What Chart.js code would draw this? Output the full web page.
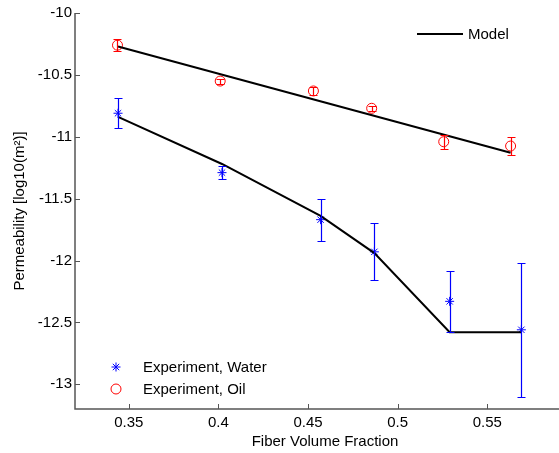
<!DOCTYPE html>
<html>
<head>
<meta charset="utf-8">
<script src="https://cdn.jsdelivr.net/npm/chart.js@4/dist/chart.umd.min.js"></script>
<style>
  html, body { margin: 0; padding: 0; background: #fff; }
  #wrap { width: 559px; height: 453px; }
</style>
</head>
<body>
<div id="wrap"><canvas id="perm-chart" width="559" height="453"></canvas></div>
<script>
// Data
const waterX = [0.344, 0.402, 0.457, 0.487, 0.529, 0.569];
const waterY = [-10.81, -11.29, -11.67, -11.93, -12.33, -12.56];
const waterErr = [0.12, 0.05, 0.17, 0.23, 0.245, 0.54];

const oilX = [0.3437, 0.401, 0.453, 0.4855, 0.5257, 0.563];
const oilY = [-10.26, -10.55, -10.63, -10.77, -11.04, -11.075];
const oilErr = [0.05, 0.02, 0.03, 0.02, 0.055, 0.075];

const modelWaterX = [0.344, 0.402, 0.457, 0.487, 0.529, 0.569];
const modelWaterY = [-10.84, -11.22, -11.64, -11.94, -12.58, -12.58];
const modelOilX = [0.344, 0.563];
const modelOilY = [-10.27, -11.13];

const xTickVals = [0.35, 0.4, 0.45, 0.5, 0.55];
const yTickVals = [-13, -12.5, -12, -11.5, -11, -10.5, -10];

const FONT = "'Liberation Sans', Arial, sans-serif";
const AXIS_COLOR = '#555';

const toPoints = (xs, ys) => xs.map((x, i) => ({ x: x, y: ys[i] }));

// error bars, axes, inward ticks, titles and the two legends
const extrasPlugin = {
    id: 'extras',
    afterDatasetsDraw(chart) {
        const ctx = chart.ctx;
        const xs = chart.scales.x, ys = chart.scales.y;
        const drawBars = (xv, yv, ev, color) => {
            ctx.save();
            ctx.strokeStyle = color;
            ctx.lineWidth = 1.2;
            xv.forEach((x, i) => {
                const px = Math.round(xs.getPixelForValue(x)) + 0.5;
                const top = Math.round(ys.getPixelForValue(yv[i] + ev[i])) + 0.5;
                const bot = Math.round(ys.getPixelForValue(yv[i] - ev[i])) + 0.5;
                ctx.beginPath();
                ctx.moveTo(px, top); ctx.lineTo(px, bot);
                ctx.moveTo(px - 4, top); ctx.lineTo(px + 4, top);
                ctx.moveTo(px - 4, bot); ctx.lineTo(px + 4, bot);
                ctx.stroke();
            });
            ctx.restore();
        };
        drawBars(waterX, waterY, waterErr, '#0000ff');
        drawBars(oilX, oilY, oilErr, '#ff0000');
    },
    afterDraw(chart) {
        const ctx = chart.ctx;
        const a = chart.chartArea;
        const xs = chart.scales.x, ys = chart.scales.y;
        ctx.save();
        // axes lines
        ctx.strokeStyle = AXIS_COLOR;
        ctx.lineWidth = 1.5;
        ctx.beginPath();
        ctx.moveTo(a.left, a.top);
        ctx.lineTo(a.left, a.bottom);
        ctx.lineTo(a.right, a.bottom);
        ctx.stroke();
        // inward ticks
        ctx.lineWidth = 1;
        ctx.beginPath();
        yTickVals.forEach(v => {
            const py = Math.round(ys.getPixelForValue(v)) + 0.5;
            ctx.moveTo(a.left, py); ctx.lineTo(a.left + 5, py);
        });
        xTickVals.forEach(v => {
            const px = Math.round(xs.getPixelForValue(v)) + 0.5;
            ctx.moveTo(px, a.bottom); ctx.lineTo(px, a.bottom - 5);
        });
        ctx.stroke();

        // axis titles
        ctx.fillStyle = '#000';
        ctx.font = '15px ' + FONT;
        ctx.textAlign = 'center';
        ctx.textBaseline = 'middle';
        ctx.fillText('Fiber Volume Fraction', 325, 442);
        ctx.save();
        ctx.translate(20, 211);
        ctx.rotate(-Math.PI / 2);
        ctx.fillText('Permeability [log10(m\u00b2)]', 0, 0);
        ctx.restore();

        // legend: Model (top right)
        ctx.strokeStyle = '#000';
        ctx.lineWidth = 2;
        ctx.beginPath();
        ctx.moveTo(417, 34); ctx.lineTo(463, 34);
        ctx.stroke();
        ctx.textAlign = 'left';
        ctx.fillText('Model', 468, 35);

        // legend: experiments (bottom left)
        ctx.fillText('Experiment, Water', 143, 368);
        ctx.fillText('Experiment, Oil', 143, 390);

        ctx.strokeStyle = '#0000ff';
        ctx.fillStyle = '#0000ff';
        ctx.lineWidth = 1;
        Chart.helpers.drawPoint(ctx, { pointStyle: 'star', radius: 4.5, borderWidth: 1 }, 116, 367);
        ctx.strokeStyle = '#ff0000';
        ctx.beginPath();
        ctx.arc(116, 389, 5, 0, Math.PI * 2);
        ctx.stroke();
        ctx.restore();
    }
};

const ctx = document.getElementById('perm-chart').getContext('2d');
const permChart = new Chart(ctx, {
    type: 'scatter',
    data: {
        datasets: [
            {
                label: 'Model',
                data: toPoints(modelWaterX, modelWaterY),
                showLine: true,
                borderColor: '#000',
                borderWidth: 2,
                pointRadius: 0,
                tension: 0
            },
            {
                label: 'Model (oil)',
                data: toPoints(modelOilX, modelOilY),
                showLine: true,
                borderColor: '#000',
                borderWidth: 2,
                pointRadius: 0,
                tension: 0
            },
            {
                label: 'Experiment, Water',
                data: toPoints(waterX, waterY),
                pointStyle: 'star',
                pointRadius: 4.5,
                borderColor: '#0000ff',
                backgroundColor: '#0000ff',
                borderWidth: 1
            },
            {
                label: 'Experiment, Oil',
                data: toPoints(oilX, oilY),
                pointStyle: 'circle',
                pointRadius: 5,
                borderColor: '#ff0000',
                backgroundColor: 'rgba(0,0,0,0)',
                borderWidth: 1
            }
        ]
    },
    options: {
        responsive: false,
        animation: false,
        layout: { autoPadding: false, padding: { top: 13, right: 0, left: 0, bottom: 0 } },
        plugins: {
            legend: { display: false },
            tooltip: { enabled: false }
        },
        scales: {
            x: {
                type: 'linear',
                min: 0.32,
                max: 0.59,
                grid: { display: false, drawTicks: false },
                border: { display: false },
                afterBuildTicks: s => { s.ticks = xTickVals.map(v => ({ value: v })); },
                afterFit: s => { s.height = 44; s.paddingLeft = 0; s.paddingRight = 0; },
                ticks: {
                    color: '#000',
                    padding: 5,
                    maxRotation: 0,
                    font: { family: FONT, size: 15 },
                    callback: v => String(v)
                }
            },
            y: {
                type: 'linear',
                min: -13.2,
                max: -10,
                grid: { display: false, drawTicks: false },
                border: { display: false },
                afterBuildTicks: s => { s.ticks = yTickVals.map(v => ({ value: v })); },
                afterFit: s => { s.width = 75; s.paddingTop = 0; s.paddingBottom = 0; },
                ticks: {
                    color: '#000',
                    padding: 3,
                    font: { family: FONT, size: 15 },
                    callback: v => String(v)
                }
            }
        }
    },
    plugins: [extrasPlugin]
});
</script>
</body>
</html>
